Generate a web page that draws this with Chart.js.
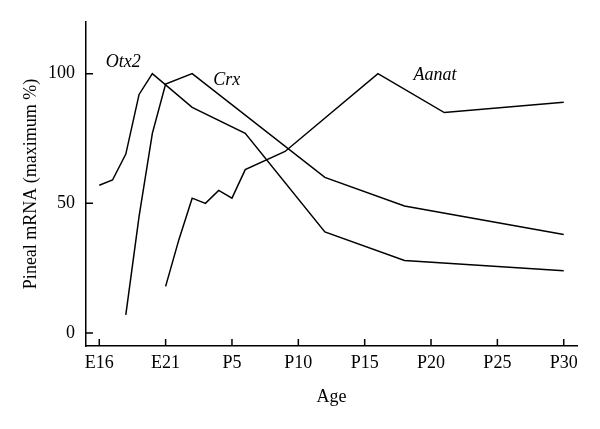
<!DOCTYPE html>
<html>
<head>
<meta charset="utf-8">
<script src="https://cdn.jsdelivr.net/npm/chart.js@4"></script>
<style>
  html, body { margin: 0; padding: 0; background: #fff; }
  #wrap { width: 600px; height: 429px; }
</style>
</head>
<body>
<div id="wrap"><canvas id="ageCanvas"></canvas></div>
<script>
// x: days from E16 (E16 = 0, E21 = 5, P5 = 10 ...)
const xTickValues = [0, 5, 10, 15, 20, 25, 30, 35];
const xTickLabels = ['E16', 'E21', 'P5', 'P10', 'P15', 'P20', 'P25', 'P30'];
const yTickValues = [0, 50, 100];

const otx2X = [0, 1, 2, 3, 4, 7, 11, 17, 23, 35];
const otx2Y = [57, 59, 69, 92, 100, 87, 77, 39, 28, 24];
const crxX = [2, 3, 4, 5, 7, 17, 23, 35];
const crxY = [7, 45, 77, 96, 100, 60, 49, 38];
const aanatX = [5, 6, 7, 8, 9, 10, 11, 14, 21, 26, 35];
const aanatY = [18, 36, 52, 50, 55, 52, 63, 70, 100, 85, 89];

// gene name labels (data coords)
const geneNames = ['Otx2', 'Crx', 'Aanat'];
const geneLabelX = [1.8, 9.6, 25.3];
const geneLabelY = [104.5, 97.5, 99.3];

const serif = '"Liberation Serif", "DejaVu Serif", serif';

function toPoints(xs, ys) {
  return xs.map((x, i) => ({ x: x, y: ys[i] }));
}

function lineSet(label, xs, ys) {
  return {
    label: label,
    data: toPoints(xs, ys),
    borderColor: '#000',
    borderWidth: 1.5,
    pointRadius: 0,
    fill: false,
    tension: 0
  };
}

// inward tick marks + italic gene labels
const extrasPlugin = {
  id: 'extras',
  afterDraw(chart) {
    const ctx = chart.ctx;
    const xs = chart.scales.x;
    const ys = chart.scales.y;
    const area = chart.chartArea;
    ctx.save();
    ctx.strokeStyle = '#000';
    ctx.lineWidth = 1.5;
    ctx.beginPath();
    xTickValues.forEach(v => {
      const px = xs.getPixelForValue(v);
      ctx.moveTo(px, area.bottom);
      ctx.lineTo(px, area.bottom - 7);
    });
    yTickValues.forEach(v => {
      const py = ys.getPixelForValue(v);
      ctx.moveTo(area.left, py);
      ctx.lineTo(area.left + 7, py);
    });
    ctx.stroke();

    ctx.fillStyle = '#000';
    ctx.font = 'italic 18px ' + serif;
    ctx.textAlign = 'center';
    ctx.textBaseline = 'middle';
    geneNames.forEach((name, i) => {
      ctx.fillText(name, xs.getPixelForValue(geneLabelX[i]), ys.getPixelForValue(geneLabelY[i]));
    });
    ctx.restore();
  }
};

var ctx = document.getElementById('ageCanvas').getContext('2d');
var chart = new Chart(ctx, {
  type: 'line',
  data: {
    datasets: [
      lineSet('Otx2', otx2X, otx2Y),
      lineSet('Crx', crxX, crxY),
      lineSet('Aanat', aanatX, aanatY)
    ]
  },
  options: {
    responsive: true,
    maintainAspectRatio: false,
    animation: false,
    layout: { padding: { left: 0, right: 23, top: 20, bottom: 0 } },
    plugins: {
      legend: { display: false },
      tooltip: { enabled: false }
    },
    scales: {
      x: {
        type: 'linear',
        min: -1,
        max: 36,
        afterBuildTicks: s => { s.ticks = xTickValues.map(v => ({ value: v })); },
        afterFit: s => { s.height = 83; },
        grid: { display: false, drawTicks: false },
        border: { display: true, color: '#000', width: 1.5 },
        ticks: {
          padding: 6,
          color: '#000',
          font: { family: serif, size: 18 },
          maxRotation: 0,
          autoSkip: false,
          callback: v => xTickLabels[xTickValues.indexOf(v)]
        },
        title: {
          display: true,
          text: 'Age',
          color: '#000',
          font: { family: serif, size: 18 },
          padding: { top: 0, bottom: 21 }
        }
      },
      y: {
        min: -5,
        max: 120,
        afterBuildTicks: s => { s.ticks = yTickValues.map(v => ({ value: v })); },
        afterFit: s => { s.width = 86; },
        grid: { display: false, drawTicks: false },
        border: { display: true, color: '#000', width: 1.5 },
        ticks: {
          padding: 11,
          color: '#000',
          font: { family: serif, size: 18 }
        },
        title: {
          display: true,
          text: 'Pineal mRNA (maximum %)',
          color: '#000',
          font: { family: serif, size: 18 },
          padding: { top: 20, bottom: 0 }
        }
      }
    }
  },
  plugins: [extrasPlugin]
});
</script>
</body>
</html>
